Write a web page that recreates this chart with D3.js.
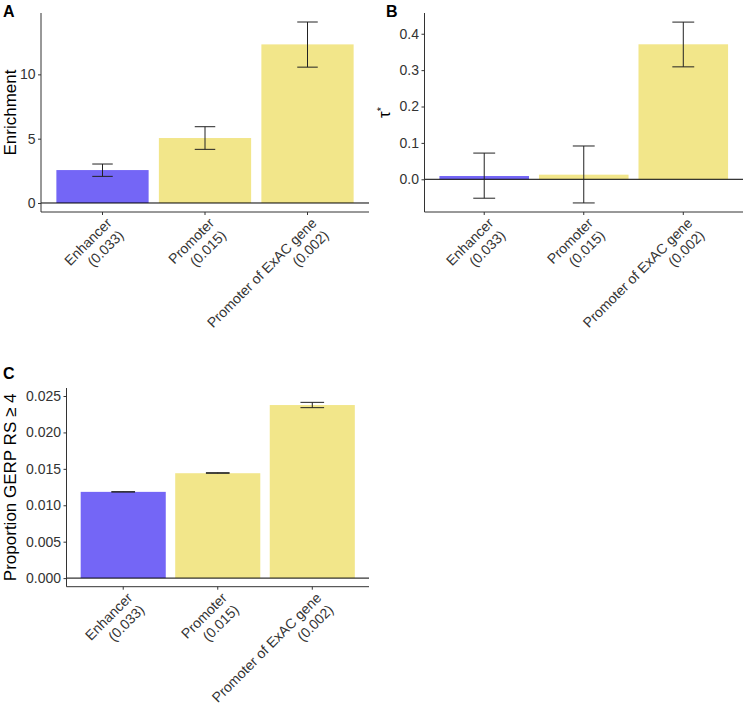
<!DOCTYPE html>
<html><head><meta charset="utf-8">
<script src="https://cdn.jsdelivr.net/npm/d3@7"></script>
<style>
body{margin:0;background:#fff;}
svg{display:block;font-family:"Liberation Sans",Arial,Helvetica,sans-serif;}
</style></head><body>
<svg id="chart" width="747" height="706"></svg>
<script>
// ---- data ----
const categories = ["Enhancer|(0.033)", "Promoter|(0.015)", "Promoter of ExAC gene|(0.002)"];
const barColors = ["#7466F6", "#F2E68A", "#F2E68A"];

const enrichment   = [2.56, 5.05, 12.33];
const enrichmentLo = [2.07, 4.17, 10.56];
const enrichmentHi = [3.03, 5.93, 14.07];
const enrichTicks  = [0, 5, 10];

const tau   = [0.009, 0.0127, 0.371];
const tauLo = [-0.052, -0.065, 0.309];
const tauHi = [0.072, 0.0915, 0.432];
const tauTicks = [0.0, 0.1, 0.2, 0.3, 0.4];

const gerp   = [0.01184, 0.0144, 0.02376];
const gerpLo = [0.01182, 0.01439, 0.0234];
const gerpHi = [0.01186, 0.01447, 0.02413];
const gerpTicks = [0.000, 0.005, 0.010, 0.015, 0.020, 0.025];

const svg = d3.select("#chart");

function panel(o) {
  const g = svg.append("g");
  const x = d3.scaleBand().domain(categories).range([o.x0, o.x1]).paddingInner(0.1).paddingOuter(0.15);
  const y = d3.scaleLinear().domain(o.domain).range([o.y1, o.y0]);
  const rows = categories.map((c, i) => ({c, v: o.values[i], lo: o.lo[i], hi: o.hi[i], col: barColors[i]}));

  // bars
  g.selectAll("rect.bar").data(rows).join("rect")
    .attr("x", d => x(d.c)).attr("width", x.bandwidth())
    .attr("y", d => Math.min(y(d.v), y(0))).attr("height", d => Math.abs(y(0) - y(d.v)))
    .attr("fill", d => d.col);

  // zero line
  g.append("line").attr("x1", o.x0).attr("x2", o.x1).attr("y1", y(0)).attr("y2", y(0))
    .attr("stroke", "#000").attr("stroke-width", 1);

  // error bars
  const ew = x.step() * o.errW / 2;
  const eg = g.selectAll("g.err").data(rows).join("g").attr("stroke", "#222").attr("stroke-width", 1).attr("fill", "none");
  eg.append("line").attr("x1", d => x(d.c) + x.bandwidth()/2).attr("x2", d => x(d.c) + x.bandwidth()/2)
    .attr("y1", d => y(d.lo)).attr("y2", d => y(d.hi));
  eg.append("line").attr("x1", d => x(d.c) + x.bandwidth()/2 - ew).attr("x2", d => x(d.c) + x.bandwidth()/2 + ew)
    .attr("y1", d => y(d.lo)).attr("y2", d => y(d.lo));
  eg.append("line").attr("x1", d => x(d.c) + x.bandwidth()/2 - ew).attr("x2", d => x(d.c) + x.bandwidth()/2 + ew)
    .attr("y1", d => y(d.hi)).attr("y2", d => y(d.hi));

  // y axis
  const ya = g.append("g").attr("transform", `translate(${o.x0},0)`)
    .call(d3.axisLeft(y).tickValues(o.ticks).tickFormat(o.fmt).tickSize(3).tickPadding(2.5).tickSizeOuter(0));
  ya.select(".domain").attr("stroke", "#333").attr("d", `M0,${o.y0}V${o.y1}`);
  ya.selectAll(".tick line").attr("stroke", "#333");
  ya.selectAll(".tick text").attr("fill", "#333").style("font-size", "14px").attr("font-family", null);

  // x axis
  const xa = g.append("g").attr("transform", `translate(0,${o.y1})`)
    .call(d3.axisBottom(x).tickSize(3).tickSizeOuter(0).tickFormat(""));
  xa.select(".domain").attr("stroke", "#333").attr("d", `M${o.x0},0H${o.x1}`);
  xa.selectAll(".tick line").attr("stroke", "#333");

  // rotated two-line category labels
  categories.forEach(c => {
    const lines = c.split("|");
    const t = g.append("text")
      .attr("transform", `translate(${x(c) + x.bandwidth()/2 + 3},${o.y1 + 5}) rotate(-45)`)
      .attr("text-anchor", "end").attr("fill", "#333").style("font-size", "14px");
    lines.forEach((l, i) => t.append("tspan").attr("x", 0).attr("y", 10 + i * 17).text(l));
  });

  // y title
  const yt = g.append("text")
    .attr("transform", `translate(${o.titleX},${(o.y0 + o.y1) / 2}) rotate(-90)`)
    .attr("text-anchor", "middle").attr("fill", "#000").style("font-size", "17px");
  o.title(yt);

  // panel letter
  g.append("text").attr("x", o.letterX).attr("y", o.letterY).text(o.letter)
    .style("font-size", "16px").style("font-weight", "bold").attr("fill", "#000");
}

panel({x0: 41, x1: 369, y0: 13, y1: 212, domain: [-0.70, 14.77],
  values: enrichment, lo: enrichmentLo, hi: enrichmentHi, ticks: enrichTicks, fmt: d3.format("d"),
  errW: 0.2, titleX: 16, title: t => t.text("Enrichment"), letter: "A", letterX: 3, letterY: 17});

panel({x0: 424.5, x1: 743, y0: 13, y1: 212, domain: [-0.0899, 0.457],
  values: tau, lo: tauLo, hi: tauHi, ticks: tauTicks, fmt: d3.format(".1f"),
  errW: 0.22, titleX: 390,
  title: t => { t.append("tspan").text("τ"); t.append("tspan").attr("dy", "-0.45em").style("font-size", "11px").text("*"); },
  letter: "B", letterX: 386, letterY: 17});

panel({x0: 66.5, x1: 369, y0: 388, y1: 586.7, domain: [-0.00118, 0.0261],
  values: gerp, lo: gerpLo, hi: gerpHi, ticks: gerpTicks, fmt: d3.format(".3f"),
  errW: 0.25, titleX: 16, title: t => t.text("Proportion GERP RS ≥ 4"), letter: "C", letterX: 3, letterY: 379});
</script>
</body></html>
